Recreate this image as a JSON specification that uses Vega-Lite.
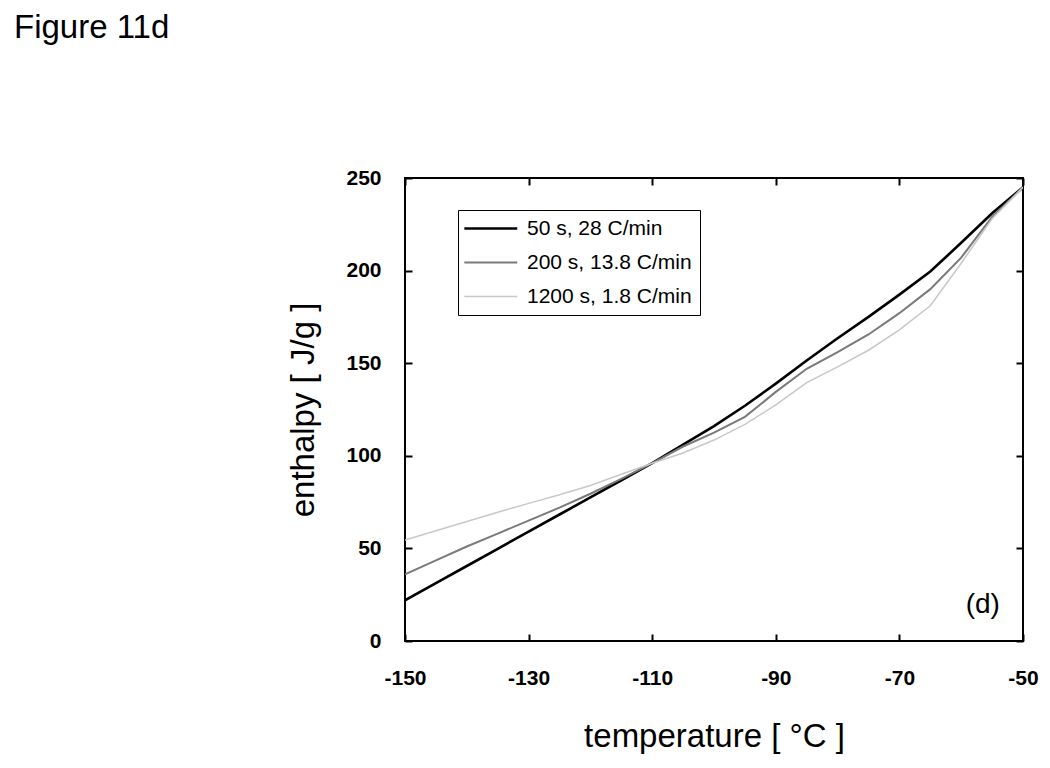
{
  "$schema": "https://vega.github.io/schema/vega-lite/v6.json",
  "width": 618,
  "height": 463,
  "autosize": {"type": "none"},
  "padding": {"left": 405, "top": 178, "right": 27, "bottom": 127},
  "background": "white",
  "config": {
    "font": "Liberation Sans",
    "view": {"stroke": "black", "strokeWidth": 2},
    "axis": {"grid": false, "domain": false}
  },
  "title": {
    "text": "Figure 11d",
    "anchor": "start",
    "frame": "group",
    "dx": -391,
    "offset": 122,
    "fontSize": 33,
    "fontWeight": "normal",
    "color": "black",
    "font": "Liberation Sans"
  },
  "datasets": {
    "curves": [
      {"series": "50 s, 28 C/min", "T": -150, "H": 22},
      {"series": "50 s, 28 C/min", "T": -145, "H": 31.2},
      {"series": "50 s, 28 C/min", "T": -140, "H": 40.5},
      {"series": "50 s, 28 C/min", "T": -135, "H": 49.8},
      {"series": "50 s, 28 C/min", "T": -130, "H": 59},
      {"series": "50 s, 28 C/min", "T": -125, "H": 68.3},
      {"series": "50 s, 28 C/min", "T": -120, "H": 77.5},
      {"series": "50 s, 28 C/min", "T": -115, "H": 86.8},
      {"series": "50 s, 28 C/min", "T": -110, "H": 96},
      {"series": "50 s, 28 C/min", "T": -105, "H": 106},
      {"series": "50 s, 28 C/min", "T": -100, "H": 116},
      {"series": "50 s, 28 C/min", "T": -95, "H": 127},
      {"series": "50 s, 28 C/min", "T": -90, "H": 139},
      {"series": "50 s, 28 C/min", "T": -85, "H": 151.5},
      {"series": "50 s, 28 C/min", "T": -80, "H": 163.5},
      {"series": "50 s, 28 C/min", "T": -75, "H": 175},
      {"series": "50 s, 28 C/min", "T": -70, "H": 187},
      {"series": "50 s, 28 C/min", "T": -65, "H": 199.5},
      {"series": "50 s, 28 C/min", "T": -60, "H": 215},
      {"series": "50 s, 28 C/min", "T": -55, "H": 231},
      {"series": "50 s, 28 C/min", "T": -50, "H": 245},
      {"series": "200 s, 13.8 C/min", "T": -150, "H": 36},
      {"series": "200 s, 13.8 C/min", "T": -145, "H": 43.5},
      {"series": "200 s, 13.8 C/min", "T": -140, "H": 51},
      {"series": "200 s, 13.8 C/min", "T": -135, "H": 58},
      {"series": "200 s, 13.8 C/min", "T": -130, "H": 65},
      {"series": "200 s, 13.8 C/min", "T": -125, "H": 72},
      {"series": "200 s, 13.8 C/min", "T": -120, "H": 79.5},
      {"series": "200 s, 13.8 C/min", "T": -115, "H": 87.5},
      {"series": "200 s, 13.8 C/min", "T": -110, "H": 96},
      {"series": "200 s, 13.8 C/min", "T": -105, "H": 105},
      {"series": "200 s, 13.8 C/min", "T": -100, "H": 112.5},
      {"series": "200 s, 13.8 C/min", "T": -95, "H": 121},
      {"series": "200 s, 13.8 C/min", "T": -90, "H": 134.5},
      {"series": "200 s, 13.8 C/min", "T": -85, "H": 147},
      {"series": "200 s, 13.8 C/min", "T": -80, "H": 156},
      {"series": "200 s, 13.8 C/min", "T": -75, "H": 165.5},
      {"series": "200 s, 13.8 C/min", "T": -70, "H": 177},
      {"series": "200 s, 13.8 C/min", "T": -65, "H": 190},
      {"series": "200 s, 13.8 C/min", "T": -60, "H": 207},
      {"series": "200 s, 13.8 C/min", "T": -55, "H": 229},
      {"series": "200 s, 13.8 C/min", "T": -50, "H": 245},
      {"series": "1200 s, 1.8 C/min", "T": -150, "H": 54.5},
      {"series": "1200 s, 1.8 C/min", "T": -145, "H": 59.5},
      {"series": "1200 s, 1.8 C/min", "T": -140, "H": 64.5},
      {"series": "1200 s, 1.8 C/min", "T": -135, "H": 69.5},
      {"series": "1200 s, 1.8 C/min", "T": -130, "H": 74.3},
      {"series": "1200 s, 1.8 C/min", "T": -125, "H": 79},
      {"series": "1200 s, 1.8 C/min", "T": -120, "H": 84},
      {"series": "1200 s, 1.8 C/min", "T": -115, "H": 90},
      {"series": "1200 s, 1.8 C/min", "T": -110, "H": 96},
      {"series": "1200 s, 1.8 C/min", "T": -105, "H": 101.5},
      {"series": "1200 s, 1.8 C/min", "T": -100, "H": 108.5},
      {"series": "1200 s, 1.8 C/min", "T": -95, "H": 117},
      {"series": "1200 s, 1.8 C/min", "T": -90, "H": 127.5},
      {"series": "1200 s, 1.8 C/min", "T": -85, "H": 139.5},
      {"series": "1200 s, 1.8 C/min", "T": -80, "H": 148},
      {"series": "1200 s, 1.8 C/min", "T": -75, "H": 157},
      {"series": "1200 s, 1.8 C/min", "T": -70, "H": 168},
      {"series": "1200 s, 1.8 C/min", "T": -65, "H": 181},
      {"series": "1200 s, 1.8 C/min", "T": -60, "H": 204},
      {"series": "1200 s, 1.8 C/min", "T": -55, "H": 228},
      {"series": "1200 s, 1.8 C/min", "T": -50, "H": 245}
    ],
    "panel": [
      {"T": -56.5, "H": 19.5, "label": "(d)"}
    ]
  },
  "layer": [
    {
      "data": {"name": "curves"},
      "mark": {"type": "line", "clip": true},
      "encoding": {
        "x": {
          "field": "T", "type": "quantitative",
          "scale": {"domain": [-150, -50], "nice": false, "zero": false},
          "axis": {
            "orient": "bottom", "values": [-150, -130, -110, -90, -70, -50],
            "labelExpr": "toString(datum.value)",
            "title": "temperature [ °C ]", "titleFontSize": 33, "titleFontWeight": "normal",
            "titleColor": "black", "titlePadding": 32, "titleFont": "Liberation Sans",
            "labelFontSize": 21, "labelFontWeight": "bold", "labelColor": "black",
            "labelFont": "Liberation Sans",
            "tickSize": -7, "tickWidth": 2, "tickColor": "black", "labelPadding": 33,
            "labelFlush": false
          }
        },
        "y": {
          "field": "H", "type": "quantitative",
          "scale": {"domain": [0, 250], "nice": false},
          "axis": {
            "orient": "left", "values": [0, 50, 100, 150, 200, 250],
            "labelExpr": "toString(datum.value)",
            "title": "enthalpy [ J/g ]", "titleFontSize": 33, "titleFontWeight": "normal",
            "titleColor": "black", "titlePadding": 25, "titleFont": "Liberation Sans",
            "labelFontSize": 21, "labelFontWeight": "bold", "labelColor": "black",
            "labelFont": "Liberation Sans",
            "tickSize": -7, "tickWidth": 2, "tickColor": "black", "labelPadding": 31,
            "labelFlush": false
          }
        },
        "color": {
          "field": "series", "type": "nominal",
          "scale": {
            "domain": ["50 s, 28 C/min", "200 s, 13.8 C/min", "1200 s, 1.8 C/min"],
            "range": ["#000000", "#7a7a7a", "#c8c8c8"]
          },
          "legend": {
            "title": null, "orient": "none", "legendX": 53, "legendY": 32,
            "strokeColor": "black", "padding": 8, "fillColor": "white",
            "symbolType": "M-2.3,0H7.7", "symbolSize": 112,
            "labelFontSize": 21, "labelColor": "black", "labelFont": "Liberation Sans",
            "labelOffset": 40, "rowPadding": 12, "labelLimit": 300
          }
        },
        "strokeWidth": {
          "field": "series", "type": "nominal",
          "scale": {
            "domain": ["50 s, 28 C/min", "200 s, 13.8 C/min", "1200 s, 1.8 C/min"],
            "range": [2.6, 1.5, 1]
          },
          "legend": {
            "title": null, "orient": "none", "legendX": 53, "legendY": 32,
            "strokeColor": "black", "padding": 8, "fillColor": "white",
            "symbolType": "M-2.3,0H7.7", "symbolSize": 112,
            "labelFontSize": 21, "labelColor": "black", "labelFont": "Liberation Sans",
            "labelOffset": 40, "rowPadding": 12, "labelLimit": 300
          }
        }
      }
    },
    {
      "data": {"name": "curves"},
      "mark": {"type": "point", "opacity": 0},
      "encoding": {
        "x": {
          "field": "T", "type": "quantitative",
          "axis": {"orient": "top", "values": [-150, -130, -110, -90, -70, -50], "labels": false, "title": null,
            "tickSize": -7, "tickWidth": 2, "tickColor": "black"}
        },
        "y": {
          "field": "H", "type": "quantitative",
          "axis": {"orient": "right", "values": [0, 50, 100, 150, 200, 250], "labels": false, "title": null,
            "tickSize": -7, "tickWidth": 2, "tickColor": "black"}
        }
      }
    },
    {
      "data": {"name": "panel"},
      "mark": {"type": "text", "fontSize": 28, "font": "Liberation Sans", "color": "black", "align": "center", "baseline": "middle"},
      "encoding": {
        "x": {"field": "T", "type": "quantitative", "axis": null},
        "y": {"field": "H", "type": "quantitative", "axis": null},
        "text": {"field": "label"}
      }
    }
  ],
  "resolve": {"axis": {"x": "independent", "y": "independent"}}
}
